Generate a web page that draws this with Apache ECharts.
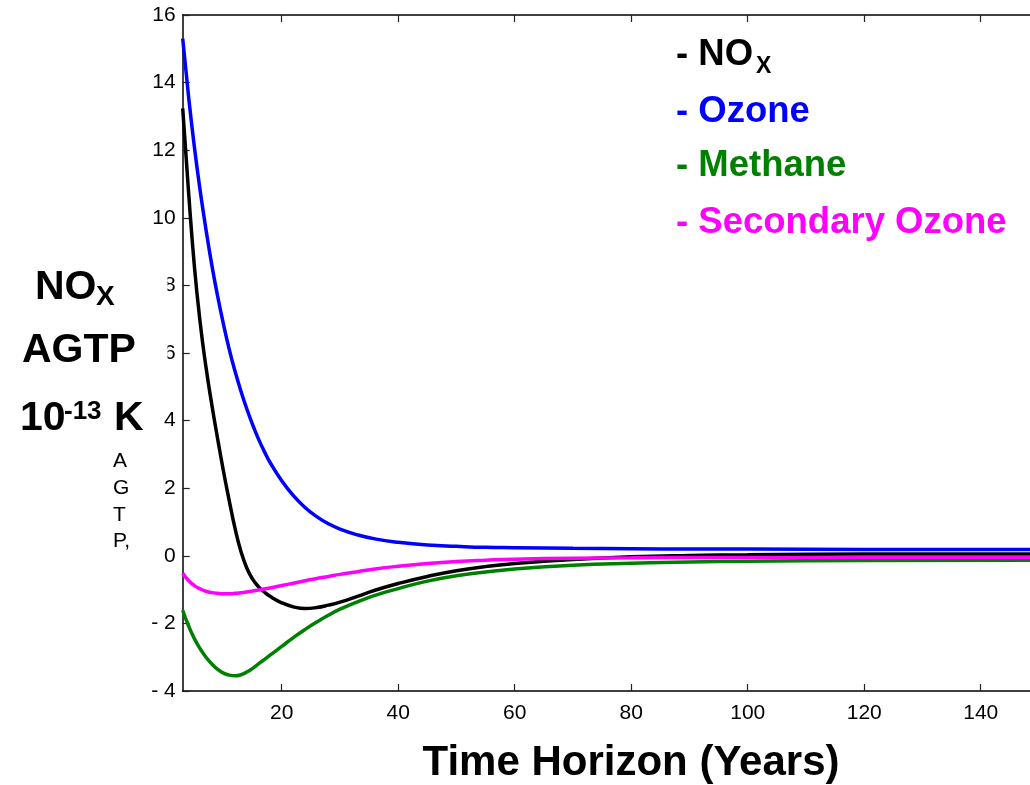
<!DOCTYPE html>
<html>
<head>
<meta charset="utf-8">
<script src="https://cdn.jsdelivr.net/npm/echarts@6/dist/echarts.min.js"></script>
<style>
html,body{margin:0;padding:0;background:#fff;}
#c{width:1030px;height:785px;}
</style>
</head>
<body>
<div id="c"></div>
<script>
const years = [3,4,5,6,7,8,9,10,11,12,13,14,15,16,17,18,20,22,24,26,28,30,33,36,40,45,50,55,60,70,80,90,100,120,150];
const noxValues = [13.24,10.78,8.58,6.9,5.58,4.47,3.46,2.5,1.62,0.8,0.13,-0.36,-0.69,-0.91,-1.07,-1.2,-1.39,-1.51,-1.56,-1.53,-1.46,-1.37,-1.2,-1.02,-0.82,-0.61,-0.44,-0.32,-0.23,-0.11,-0.03,0.01,0.03,0.05,0.05];
const ozoneValues = [15.3,13.6,12.1,10.8,9.65,8.6,7.68,6.85,6.1,5.45,4.87,4.35,3.88,3.46,3.09,2.76,2.22,1.78,1.43,1.16,0.95,0.79,0.62,0.5,0.4,0.32,0.28,0.25,0.24,0.22,0.21,0.2,0.2,0.19,0.19];
const methaneValues = [-1.61,-2.07,-2.45,-2.75,-3.0,-3.2,-3.36,-3.47,-3.53,-3.55,-3.52,-3.44,-3.33,-3.2,-3.07,-2.94,-2.68,-2.42,-2.18,-1.96,-1.76,-1.58,-1.36,-1.17,-0.97,-0.75,-0.59,-0.48,-0.39,-0.28,-0.22,-0.18,-0.16,-0.14,-0.13];
const secOzoneValues = [-0.52,-0.73,-0.88,-0.98,-1.05,-1.09,-1.11,-1.12,-1.12,-1.11,-1.09,-1.07,-1.04,-1.01,-0.98,-0.95,-0.88,-0.81,-0.74,-0.67,-0.61,-0.55,-0.47,-0.39,-0.31,-0.23,-0.17,-0.13,-0.1,-0.07,-0.06,-0.05,-0.05,-0.05,-0.05];
const xTicks = [20,40,60,80,100,120,140];
const seriesNames = ['NOx','Ozone','Methane','Secondary Ozone'];
const seriesColors = ['#000000','#0000ff','#008000','#ff00ff'];
const xTitle = 'Time Horizon (Years)';

const FONT = '"Liberation Sans", Arial, sans-serif';
const chart = echarts.init(document.getElementById('c'));
const pairs = v => years.map((x,i)=>[x, v[i]]);
const allVals = [noxValues, ozoneValues, methaneValues, secOzoneValues];

const axisCommon = {
  type:'value', min:3, max:150,
  axisLine:{show:true, onZero:false, lineStyle:{color:'#000', width:1.5}},
  axisTick:{show:true, inside:true, length:7, customValues:xTicks, lineStyle:{color:'#222', width:1.2}},
  splitLine:{show:false}
};

chart.setOption({
  animation:false,
  backgroundColor:'#fff',
  grid:{left:182.7, top:15, bottom:94, right:-9, containLabel:false, outerBoundsMode:'none'},
  xAxis:[
    Object.assign({}, axisCommon, {
      position:'bottom',
      axisLabel:{show:true, customValues:xTicks, fontSize:21, color:'#000', fontFamily:FONT, margin:12}
    }),
    Object.assign({}, axisCommon, {position:'top', axisLabel:{show:false}})
  ],
  yAxis:[{
    type:'value', min:-4, max:16, interval:2,
    axisLine:{show:true, onZero:false, lineStyle:{color:'#000', width:1.5}},
    axisTick:{show:true, inside:true, length:7, lineStyle:{color:'#222', width:1.2}},
    axisLabel:{fontSize:21, color:'#000', fontFamily:FONT, margin:7,
      formatter:v => v < 0 ? '- ' + Math.abs(v) : String(v)},
    splitLine:{show:false}
  }],
  series: allVals.map((v,i)=>({
    name:seriesNames[i], type:'line', data:pairs(v), smooth:0.5,
    showSymbol:false, symbol:'none',
    lineStyle:{color:seriesColors[i], width:3.5}, itemStyle:{color:seriesColors[i]}
  })),
  graphic:[
    {type:'rect', z:100, shape:{x:0, y:265, width:167.5, height:103}, style:{fill:'#fff'}},
    // x-axis title
    {type:'text', z:101, x:631, y:763, style:{text:xTitle, font:'bold 42px '+FONT, fill:'#000', align:'center', verticalAlign:'middle'}},
    // y-axis title block
    {type:'text', z:101, left:35, top:267, style:{text:'NO', font:'bold 41px '+FONT, fill:'#000'}},
    {type:'text', z:101, left:96, top:283, style:{text:'X', font:'bold 28px '+FONT, fill:'#000'}},
    {type:'text', z:101, left:22, top:330, style:{text:'AGTP', font:'bold 41px '+FONT, fill:'#000'}},
    {type:'text', z:101, left:20, top:398, style:{text:'10', font:'bold 41px '+FONT, fill:'#000'}},
    {type:'text', z:101, left:64, top:399, style:{text:'-13', font:'bold 26px '+FONT, fill:'#000'}},
    {type:'text', z:101, left:114, top:398, style:{text:'K', font:'bold 41px '+FONT, fill:'#000'}},
    {type:'text', z:101, left:113, top:448, style:{text:'A\nG\nT\nP,', font:'21px '+FONT, fill:'#000', lineHeight:26.7}},
    // legend text
    {type:'text', z:101, left:676, top:36, style:{text:'- NO', font:'bold 36.5px '+FONT, fill:seriesColors[0]}},
    {type:'text', z:101, left:756, top:55, style:{text:'X', font:'bold 23px '+FONT, fill:seriesColors[0]}},
    {type:'text', z:101, left:676, top:93, style:{text:'- Ozone', font:'bold 36.5px '+FONT, fill:seriesColors[1]}},
    {type:'text', z:101, left:676, top:147.5, style:{text:'- Methane', font:'bold 36.5px '+FONT, fill:seriesColors[2]}},
    {type:'text', z:101, left:676, top:204, style:{text:'- Secondary Ozone', font:'bold 36.5px '+FONT, fill:seriesColors[3]}}
  ]
});
</script>
</body>
</html>
